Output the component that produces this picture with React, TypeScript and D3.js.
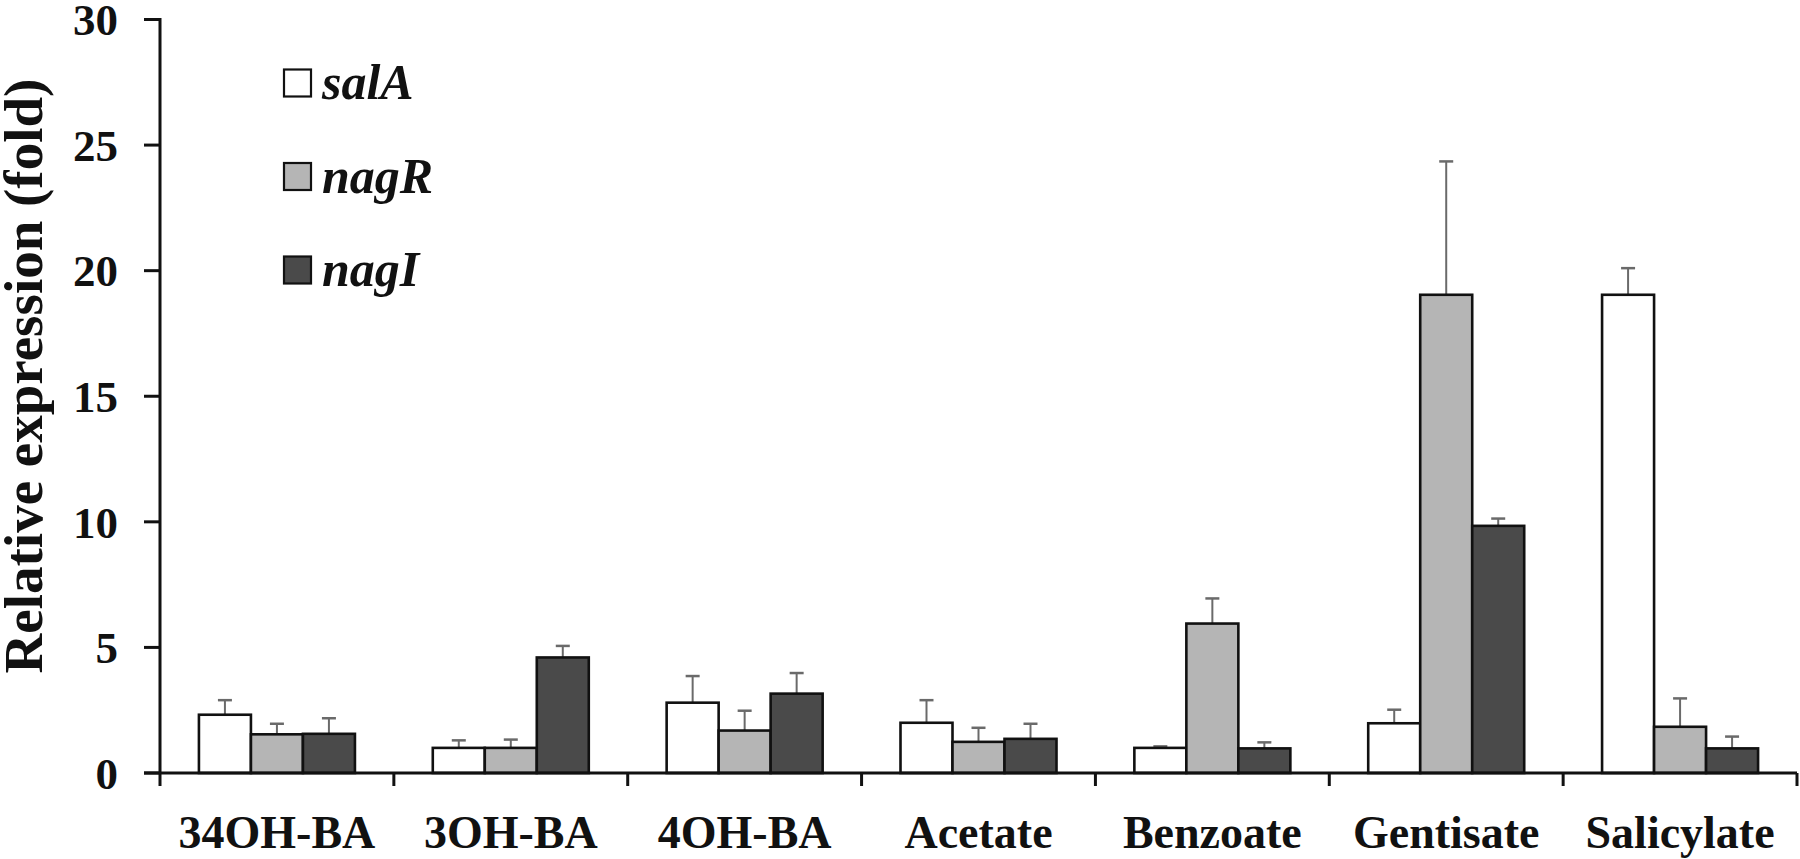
import React from "react";
import * as d3 from "d3";

const categories = ["34OH-BA", "3OH-BA", "4OH-BA", "Acetate", "Benzoate", "Gentisate", "Salicylate"];
const seriesNames = ["salA", "nagR", "nagI"];
const salA = [2.32, 1.0, 2.8, 2.0, 1.0, 1.98, 19.04];
const salAErr = [0.58, 0.3, 1.06, 0.9, 0.06, 0.54, 1.06];
const nagR = [1.54, 1.0, 1.69, 1.24, 5.95, 19.04, 1.84];
const nagRErr = [0.42, 0.33, 0.79, 0.56, 1.0, 5.31, 1.13];
const nagI = [1.56, 4.6, 3.16, 1.36, 0.98, 9.84, 0.98];
const nagIErr = [0.62, 0.46, 0.82, 0.6, 0.24, 0.29, 0.47];
const yTicks = [0, 5, 10, 15, 20, 25, 30];
const fills = ["#ffffff", "#b5b5b5", "#4a4a4a"];

const W = 1800;
const H = 859;
const FONT = "'Liberation Serif', 'Times New Roman', serif";

export default function App() {
  const values = [salA, nagR, nagI];
  const errs = [salAErr, nagRErr, nagIErr];
  const x0 = 160;
  const x1 = 1797;
  const yBase = 773;
  const yTop = 19.5;
  const y = d3.scaleLinear().domain([0, 30]).range([yBase, yTop]);
  const x = d3.scaleBand<string>().domain(categories).range([x0, x1]).paddingInner(0).paddingOuter(0);
  const bw = x.bandwidth();
  const barW = 52;
  const pOuter = (bw / barW - 3) / 2;
  const xs = d3.scaleBand<string>().domain(seriesNames).range([0, bw]).paddingInner(0).paddingOuter(pOuter);
  const capW = 14;

  return (
    <svg width={W} height={H} style={{ position: "absolute", left: 0, top: 0, background: "#fff" }} fontFamily={FONT}>
      <rect x={0} y={0} width={W} height={H} fill="#fff" />
      {categories.map((c, i) =>
        seriesNames.map((s, j) => {
          const cx = (x(c) as number) + (xs(s) as number) + xs.bandwidth() / 2;
          const v = values[j][i];
          const e = errs[j][i];
          return (
            <g key={`e-${c}-${s}`} stroke="#6a6a6a" strokeWidth={2}>
              <line x1={cx} x2={cx} y1={y(v)} y2={y(v + e)} />
              <line x1={cx - capW / 2} x2={cx + capW / 2} y1={y(v + e)} y2={y(v + e)} strokeWidth={2.5} />
            </g>
          );
        })
      )}
      {categories.map((c, i) =>
        seriesNames.map((s, j) => {
          const bx = (x(c) as number) + (xs(s) as number);
          const v = values[j][i];
          return (
            <rect
              key={`b-${c}-${s}`}
              x={bx}
              y={y(v)}
              width={xs.bandwidth()}
              height={yBase - y(v)}
              fill={fills[j]}
              stroke="#111"
              strokeWidth={2.6}
            />
          );
        })
      )}
      <line x1={x0} x2={x0} y1={y(30) - 1.5} y2={yBase + 13} stroke="#111" strokeWidth={3} />
      {yTicks.map((t) => (
        <g key={`yt-${t}`}>
          <line x1={x0 - 16} x2={x0} y1={y(t)} y2={y(t)} stroke="#111" strokeWidth={3} />
          <text x={118} y={y(t)} dy="0.35em" textAnchor="end" fontSize={45} fontWeight="bold" fill="#111">
            {t}
          </text>
        </g>
      ))}
      <line x1={x0 - 16} x2={x1} y1={yBase} y2={yBase} stroke="#111" strokeWidth={3} />
      {categories.map((c) => (
        <line key={`xt-${c}`} x1={(x(c) as number) + bw} x2={(x(c) as number) + bw} y1={yBase} y2={yBase + 13} stroke="#111" strokeWidth={3} />
      ))}
      {categories.map((c) => (
        <text key={`xl-${c}`} x={(x(c) as number) + bw / 2} y={848} textAnchor="middle" fontSize={46} fontWeight="bold" fill="#111">
          {c}
        </text>
      ))}
      <text
        transform={`translate(42, ${376}) rotate(-90)`}
        textAnchor="middle"
        fontSize={55}
        fontWeight="bold"
        fill="#111"
      >
        Relative expression (fold)
      </text>
      {seriesNames.map((s, j) => {
        const cy = 83 + j * 93.5;
        return (
          <g key={`lg-${s}`}>
            <rect x={284} y={cy - 13.5} width={27} height={27} fill={fills[j]} stroke="#111" strokeWidth={2.2} />
            <text x={322} y={cy + 16} fontSize={50} fontWeight="bold" fontStyle="italic" fill="#111">
              {s}
            </text>
          </g>
        );
      })}
    </svg>
  );
}
